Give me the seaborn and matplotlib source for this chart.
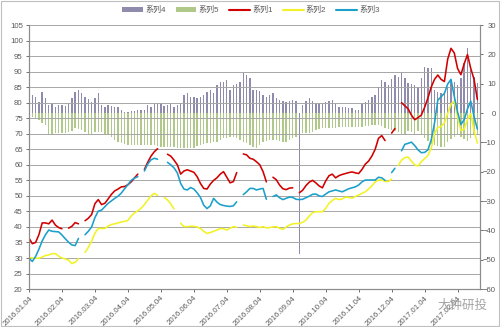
import numpy as np
import pandas as pd
import matplotlib
matplotlib.use("Agg")
import matplotlib.pyplot as plt
import seaborn as sns
from matplotlib.patches import Patch, Rectangle
from matplotlib.lines import Line2D

nan = np.nan

tick_labels = ["2016.01.04", "2016.02.04", "2016.03.04", "2016.04.04", "2016.05.04",
               "2016.06.04", "2016.07.04", "2016.08.04", "2016.09.04", "2016.10.04",
               "2016.11.04", "2016.12.04", "2017.01.04", "2017.02.04"]

series_names = ["系列4", "系列5", "系列1", "系列2", "系列3"]

# 系列1 (red, left axis)
s1 = [36.4, 34.6, 35.0, 37.5, 41.3, 41.3, 41.0, 42.2, 40.6, 39.8,
      39.4, nan, 39.6, 40.2, 41.4, 41.0, nan, 42.0, 42.8, 44.0,
      47.5, 48.8, 47.2, 47.6, 49.0, 50.5, 51.6, 52.2, 52.9, 53.0,
      53.6, 54.5, 55.8, 57.0, nan, 58.5, 60.8, 62.8, 64.2, 65.2,
      nan, nan, 63.4, 62.8, 61.5, 60.0, 57.0, 58.0, 58.4, 58.0,
      57.6, 56.2, 54.0, 52.4, 52.2, 53.8, 55.0, 55.8, 57.0, 57.8,
      56.0, 54.2, 54.6, 57.5, nan, 63.5, 63.2, 62.1, 61.8, 61.0,
      60.0, 57.8, 54.5, nan, 56.0, 55.2, 53.5, 52.3, 52.0, 52.5,
      52.6, nan, 51.0, 51.8, 53.3, 54.4, 55.0, 54.2, 53.2, 52.6,
      54.8, 56.5, 57.0, 55.8, 56.5, 56.9, 57.2, 57.5, 57.7, 57.4,
      57.2, 58.5, 60.2, 61.2, 62.8, 65.0, 68.5, 69.4, 67.8, nan,
      70.2, 71.7, nan, 80.0, 79.0, 78.0, 76.0, 74.5, 75.2, 76.0,
      78.5, 81.5, 85.0, 87.5, 88.9, 87.5, 86.8, 94.0, 97.5, 96.0,
      91.0, 89.0, 92.5, 95.5, 91.0, 87.5, 81.0]

# 系列2 (yellow, left axis)
s2 = [30.2, 30.0, 29.9, 29.9, 30.3, 30.8, 31.0, 31.4, 31.4, 30.6,
      30.0, 29.7, 29.3, 28.2, 28.6, 29.8, nan, 31.8, 33.4, 35.5,
      38.0, 39.5, 39.5, 39.5, 40.3, 40.8, 41.0, 41.3, 41.6, 41.8,
      42.1, 43.5, 44.5, 45.2, 46.0, 47.2, 48.6, 50.0, 50.8, 50.2,
      nan, 49.5, 48.7, 47.4, 45.8, nan, 41.2, 40.1, 40.1, 40.2,
      40.2, 40.0, 39.5, 38.6, 37.9, 38.2, 38.6, 39.0, 39.5, 39.4,
      39.0, 39.6, 40.1, 39.9, nan, 40.6, 40.4, 40.1, 40.3, 40.1,
      39.8, 40.1, 39.7, 39.8, 40.0, 40.1, 39.6, 39.2, 40.0, 40.6,
      41.0, 41.1, 41.1, 41.5, 42.2, 43.5, 44.6, 44.9, 44.9, 44.9,
      46.0, 47.6, 48.5, 49.2, 48.8, 49.0, 49.6, 49.5, 49.3, 49.8,
      50.3, 50.8, 51.3, 52.2, 53.2, 54.5, 55.1, 55.1, 54.7, 54.6,
      55.4, nan, 59.8, 61.5, 62.3, 62.5, 61.2, 60.0, 59.6, 61.0,
      62.0, 63.0, 65.3, 70.0, 72.0, 72.3, 73.5, 76.5, 79.5, 80.5,
      75.5, 71.0, 71.5, 74.5, 76.5, 71.0, 67.0]

# 系列3 (cyan, left axis)
s3 = [29.9, 28.9, 30.5, 32.8, 35.5, 37.5, 39.0, 38.6, 38.5, 38.4,
      37.4, 36.2, 35.1, 34.2, 34.0, 36.3, nan, 37.5, 38.6, 40.0,
      43.0, 45.1, 45.4, 46.5, 47.6, 48.4, 49.2, 49.9, 50.9, 52.3,
      53.6, 55.0, 55.7, 56.2, nan, 58.0, 60.2, 61.6, 62.1, 61.8,
      nan, nan, 60.8, 60.0, 59.0, 57.4, 54.0, 52.2, 51.9, 52.7,
      52.2, 51.0, 49.5, 47.0, 45.9, 46.8, 49.2, 48.0, 47.2, 46.9,
      46.7, 46.6, 46.8, 48.1, nan, 50.4, 51.3, 52.4, 52.4, 51.9,
      52.2, 52.4, 48.9, nan, 49.8, 50.3, 49.4, 48.8, 49.2, 49.6,
      49.5, 48.9, 48.8, 48.9, 49.4, 49.9, 50.5, 50.6, 50.0, 49.8,
      50.6, 51.3, 51.6, 51.9, 51.6, 51.3, 51.8, 52.3, 52.6, 52.9,
      53.5, 54.5, 55.1, 55.1, 55.1, 55.1, 56.0, 55.8, 55.0, nan,
      57.5, 58.9, nan, 64.5, 66.6, 66.9, 67.3, 66.2, 64.8, 63.9,
      64.0, 64.8, 68.0, 73.4, 80.8, 81.9, 83.0, 86.0, 87.5, 82.0,
      77.0, 73.0, 74.5, 78.0, 80.5, 75.5, 71.5]

# 系列4 (purple bars, right axis)
s4 = [7.6, 6.0, 5.6, 3.9, 7.0, 5.0, 2.7, 3.3, 2.1, 2.7,
      2.6, 2.4, 3.3, 5.0, 7.3, 7.8, 6.7, 5.3, 4.7, 3.9,
      5.0, 6.7, 2.7, 2.1, 2.7, 2.4, 2.1, 2.1, 1.0, 0.3,
      0.3, 0.6, 0.8, 1.0, 1.0, 1.0, 2.7, 2.1, 3.3, 3.0,
      3.3, 2.5, 2.7, 3.3, 2.1, 2.8, 3.3, 6.1, 6.7, 5.6,
      5.6, 5.0, 5.5, 6.1, 7.3, 7.8, 6.7, 9.5, 10.5, 10.7,
      11.2, 7.8, 9.5, 10.0, 10.7, 13.5, 13.0, 11.8, 7.8, 7.8,
      7.5, 6.0, 5.6, 6.2, 6.7, 5.0, 4.4, 4.2, 3.9, 4.0,
      4.4, 4.2, -48.0, 2.7, 4.0, 5.0, 4.2, 3.5, 3.3, 3.5,
      3.9, 4.2, 4.4, 3.0, 2.1, 2.2, 2.1, 1.8, 1.6, 1.2,
      1.0, 3.0, 3.9, 4.5, 5.5, 6.1, 9.0, 11.2, 10.7, 9.5,
      11.5, 13.0, 12.4, 14.1, 12.0, 10.1, 9.8, 9.5, 8.4, 12.0,
      15.8, 15.5, 15.2, 7.8, 7.0, 6.7, 6.7, 9.0, 11.2, 10.5,
      9.5, 12.0, 17.0, 22.0, 14.7, 12.4, 10.1]

# 系列5 (green bars, right axis)
s5 = [-1.0, -1.5, -2.0, -2.4, -3.5, -4.1, -7.5, -7.2, -6.9, -6.9,
      -6.9, -6.8, -6.4, -6.0, -5.2, -5.5, -5.8, -6.5, -7.5, -7.0,
      -6.4, -6.4, -6.4, -7.0, -7.5, -8.3, -9.2, -9.8, -10.3, -10.6,
      -10.9, -10.9, -10.9, -10.9, -10.9, -10.9, -10.9, -10.9, -10.9, -11.2,
      -11.5, -11.5, -11.5, -11.5, -11.5, -11.8, -12.0, -12.0, -12.0, -12.0,
      -11.8, -11.2, -10.9, -10.6, -10.3, -10.3, -10.0, -9.8, -9.2, -8.6,
      -8.4, -8.1, -8.1, -8.6, -9.2, -9.8, -10.3, -11.0, -11.5, -12.0,
      -11.0, -9.8, -9.5, -9.2, -9.2, -9.2, -9.4, -9.8, -9.8, -9.2,
      -8.6, -8.0, -7.2, -6.9, -6.9, -6.9, -6.4, -5.8, -5.5, -5.2,
      -5.2, -5.2, -5.2, -5.0, -4.8, -4.7, -4.7, -4.7, -4.7, -4.7,
      -4.7, -4.7, -4.5, -4.3, -4.1, -4.0, -4.2, -4.5, -5.0, -5.5,
      -5.8, -6.0, -6.5, -7.0, -7.0, -6.0, -6.5, -7.0, -6.0, -7.5,
      -8.5, -9.5, -10.5, -10.9, -11.2, -11.5, -11.5, -10.0, -9.0, -8.0,
      -7.0, -8.0, -9.0, -9.5, -8.5, -7.5, -7.0]

colors = {"系列4": "#8E8BAD", "系列5": "#B0C98A", "系列1": "#D00000",
          "系列2": "#F2F226", "系列3": "#1B9FCB"}

idx = np.arange(len(s1))

# long table for lines, with segment ids so gaps stay open
frames = []
for name, vals in [("系列1", s1), ("系列2", s2), ("系列3", s3)]:
    v = pd.Series(vals, dtype=float)
    seg = v.isna().cumsum()
    d = pd.DataFrame({"idx": idx, "value": v, "series": name, "seg": seg})
    frames.append(d.dropna())
lines_df = pd.concat(frames, ignore_index=True)

bars4 = pd.DataFrame({"idx": idx, "value": s4})
bars5 = pd.DataFrame({"idx": idx, "value": s5})

sns.set_theme(style="white")
plt.rcParams["font.family"] = ["Liberation Sans", "Noto Sans CJK SC", "DejaVu Sans"]

fig = plt.figure(figsize=(5.0, 3.27), dpi=100)
ax = fig.add_axes([0.058, 0.116, 0.902, 0.8075])
ax2 = ax.twinx()

# bars on right axis (behind)
sns.barplot(data=bars5, x="idx", y="value", native_scale=True, color=colors["系列5"],
            width=0.42, linewidth=0, errorbar=None, ax=ax2, saturation=1)
sns.barplot(data=bars4, x="idx", y="value", native_scale=True, color=colors["系列4"],
            width=0.42, linewidth=0, errorbar=None, ax=ax2, saturation=1)

# lines on left axis (front)
sns.lineplot(data=lines_df, x="idx", y="value", hue="series", units="seg",
             estimator=None, palette={k: colors[k] for k in ["系列1", "系列2", "系列3"]},
             linewidth=1.15, legend=False, ax=ax)

ax.set_zorder(ax2.get_zorder() + 1)
ax.patch.set_visible(False)

ax.set_ylim(20, 105)
ax2.set_ylim(-60, 30)
ax.set_yticks(np.arange(20, 106, 5))
ax2.set_yticks(np.arange(-60, 31, 10))
ax.yaxis.grid(True, color="#A6A6A6", linewidth=0.7)
ax.xaxis.grid(False)
ax2.grid(False)

ax.set_xlim(0, 136.8)
ax2.set_xlim(0, 136.8)
ax.set_xticks(np.arange(0, 131, 10))
ax.set_xticklabels(tick_labels, rotation=45, ha="right", rotation_mode="anchor")
ax.set_xlabel("")
ax.set_ylabel("")
ax2.set_ylabel("")
ax2.set_xlabel("")

for a in (ax, ax2):
    a.spines["top"].set_visible(False)
    for s in ["left", "right", "bottom"]:
        a.spines[s].set_color("#8C8C8C")
        a.spines[s].set_linewidth(0.8)
ax.tick_params(axis="both", labelsize=5.6, colors="#595959", length=2.5, width=0.6,
               pad=2, direction="out")
ax.tick_params(axis="x", pad=1.5)
ax.tick_params(axis="y", left=True)
ax.tick_params(axis="x", bottom=True)
ax2.tick_params(axis="y", labelsize=5.6, colors="#595959", length=2.5, width=0.6, pad=9,
                right=True)
for lab in ax2.get_yticklabels():
    lab.set_horizontalalignment("right")

handles = [Patch(facecolor=colors["系列4"], edgecolor="none"),
           Patch(facecolor=colors["系列5"], edgecolor="none"),
           Line2D([], [], color=colors["系列1"], lw=1.5),
           Line2D([], [], color=colors["系列2"], lw=1.5),
           Line2D([], [], color=colors["系列3"], lw=1.5)]
fig.legend(handles, series_names, loc="center", bbox_to_anchor=(0.502, 0.969), ncol=5,
           frameon=False, fontsize=5.8, handlelength=2.6, handleheight=0.6,
           columnspacing=1.2, handletextpad=0.3, labelcolor="#595959")

fig.text(0.925, 0.065, "大钟研投", fontsize=9, color="#9A9A9A", ha="center", va="center",
         family=["Noto Sans CJK SC", "DejaVu Sans"], alpha=0.9)

fig.patches.append(Rectangle((0.002, 0.003), 0.995, 0.993, transform=fig.transFigure,
                             fill=False, edgecolor="#BFBFBF", linewidth=0.8))

fig.savefig("out.png", dpi=100, facecolor="white")
